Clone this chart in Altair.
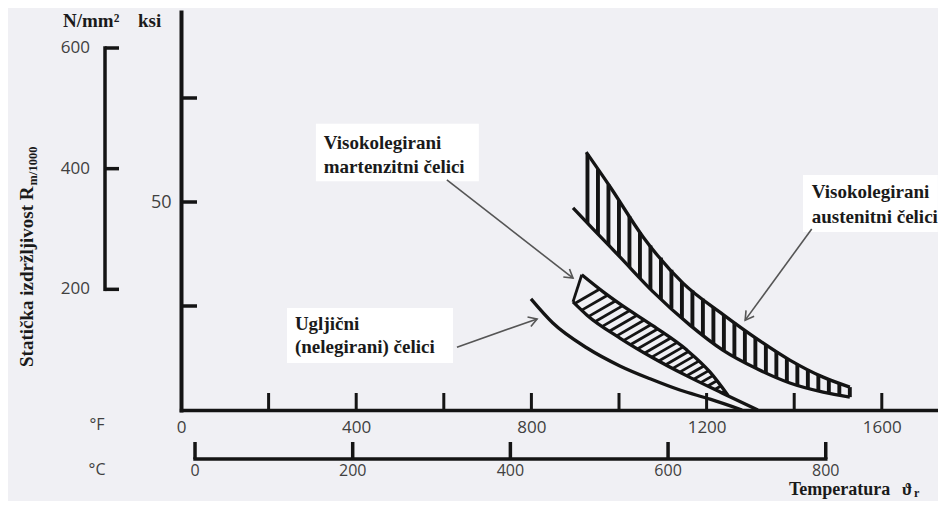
import math
import numpy as np
import pandas as pd
import altair as alt

# ---------------- data (°F , ksi) ----------------
aust_upper_F = [925, 980, 1055, 1146, 1237, 1315, 1390, 1466, 1527]
aust_upper_ksi = [62.0, 53.6, 41.6, 30.5, 23.0, 17.1, 12.0, 7.9, 5.5]
aust_lower_F = [895, 941, 1002, 1078, 1162, 1237, 1315, 1390, 1466, 1527]
aust_lower_ksi = [48.6, 43.5, 36.8, 28.4, 20.4, 14.4, 9.9, 6.5, 4.3, 3.1]

mart_upper_F = [915, 964, 1002, 1078, 1155, 1208, 1249]
mart_upper_ksi = [32.5, 28.4, 25.5, 20.2, 14.4, 9.1, 3.5]
mart_lower_F = [895, 927, 1002, 1078, 1155, 1235, 1317]
mart_lower_ksi = [26.0, 22.8, 17.3, 12.5, 8.2, 4.1, 0.0]

carbon_F = [799, 849, 927, 1002, 1071, 1139, 1208, 1281]
carbon_ksi = [26.7, 20.9, 14.9, 10.6, 7.5, 4.8, 2.6, 0.0]

F_labels = [0, 400, 800, 1200, 1600]
F_ticks = [200, 400, 600, 800, 1000, 1200, 1400, 1600]
C_ticks = [0, 200, 400, 600, 800]
ksi_ticks = [25, 50, 75]
ksi_labels = [50]
nmm_ticks = [200, 400, 600]

label_text = ["Visokolegirani", "martenzitni čelici", "Ugljični",
              "(nelegirani) čelici", "Visokolegirani", "austenitni čelici"]
label_F = [326, 326, 260, 260, 1440, 1440]
label_ksi = [62.7, 57.0, 19.2, 13.7, 51.0, 45.0]

box_F = [308, 242, 1420]
box_F2 = [680, 621, 1728]
box_ksi = [68.8, 24.5, 56.5]
box_ksi2 = [55.0, 11.3, 42.8]

arrow_F0 = [607, 630, 1440]
arrow_k0 = [55.3, 15.1, 43.5]
arrow_F1 = [895, 813, 1288]
arrow_k1 = [31.7, 21.9, 21.6]

# ---------------- layout ----------------
W, H = 757, 398
FMAX = W / 0.438
KMAX = H / 4.16
PXF = W / FMAX
PXK = H / KMAX
SERIF = "Liberation Serif, DejaVu Serif, serif"
SANS = "Open Sans, DejaVu Sans, sans-serif"
INK = "#141414"
GREY = "#404040"

xscale = alt.Scale(domain=[0, FMAX], nice=False, zero=False)
yscale = alt.Scale(domain=[0, KMAX], nice=False, zero=False)
x_axis = alt.Axis(values=F_labels, format="d", title=None, ticks=False, grid=False,
                  domainColor=INK, domainWidth=3.5, domainCap="square",
                  labelFont=SANS, labelFontSize=17, labelColor=GREY,
                  labelPadding=9, labelFlush=False, labelOverlap=False)
y_axis = alt.Axis(values=ksi_labels, format="d", title=None, ticks=False, grid=False,
                  domainColor=INK, domainWidth=4, domainCap="square",
                  labelFont=SANS, labelFontSize=18, labelColor=GREY,
                  labelPadding=10)


def X(f):
    return alt.X(f, type="quantitative", scale=xscale, axis=x_axis)


def Y(f):
    return alt.Y(f, type="quantitative", scale=yscale, axis=y_axis)


layers = []

# white label boxes
boxes = pd.DataFrame({"F": box_F, "F2": box_F2, "k": box_ksi, "k2": box_ksi2})
layers.append(alt.Chart(boxes).mark_rect(color="white").encode(
    x=X("F"), x2="F2", y=Y("k"), y2="k2"))

# curves
rows = []
for name, fs, ks in [("au", aust_upper_F, aust_upper_ksi),
                     ("al", aust_lower_F, aust_lower_ksi),
                     ("mu", mart_upper_F, mart_upper_ksi),
                     ("ml", mart_lower_F, mart_lower_ksi),
                     ("c", carbon_F, carbon_ksi)]:
    for i, (f, k) in enumerate(zip(fs, ks)):
        rows.append({"s": name, "F": f, "k": k, "o": i})
curves = pd.DataFrame(rows)
layers.append(alt.Chart(curves).mark_line(color=INK, strokeWidth=3.3, interpolate="monotone").encode(
    x=X("F"), y=Y("k"), detail="s:N", order="o:Q"))

# austenitic vertical hatching
hf = np.linspace(928, aust_upper_F[-1], 26)
aust_hatch = pd.DataFrame({
    "F": hf,
    "k": np.interp(hf, aust_lower_F, aust_lower_ksi),
    "k2": np.interp(hf, aust_upper_F, aust_upper_ksi)})
layers.append(alt.Chart(aust_hatch).mark_rule(color=INK, strokeWidth=3.9).encode(
    x=X("F"), y=Y("k"), y2="k2"))


# martensitic slanted hatching
def slanted(starts, angle_deg):
    a = math.radians(angle_deg)
    ux, uy = math.cos(a), math.sin(a)
    out = []
    for f0 in starts:
        k0 = float(np.interp(f0, mart_lower_F, mart_lower_ksi))
        X0, Y0 = f0 * PXF, k0 * PXK
        for s in np.arange(0.5, 120, 0.25):
            xx, yy = X0 + s * ux, Y0 + s * uy
            ff = xx / PXF
            if ff < mart_upper_F[0] or ff > mart_upper_F[-1]:
                continue
            if yy >= np.interp(ff, mart_upper_F, mart_upper_ksi) * PXK:
                out.append({"F": f0, "k": k0, "F2": ff, "k2": yy / PXK})
                break
    return out


mh = slanted(np.arange(899, 1245, 7 / PXF), 30)
mh.append({"F": mart_lower_F[0], "k": mart_lower_ksi[0],
           "F2": mart_upper_F[0], "k2": mart_upper_ksi[0]})
layers.append(alt.Chart(pd.DataFrame(mh)).mark_rule(color=INK, strokeWidth=2.8).encode(
    x=X("F"), x2="F2", y=Y("k"), y2="k2"))

# inward ticks on ksi axis and °F axis
layers.append(alt.Chart(pd.DataFrame({"k": ksi_ticks})).mark_rule(color=INK, strokeWidth=3.5).encode(
    y=Y("k"), x=alt.value(0), x2=alt.value(16)))
layers.append(alt.Chart(pd.DataFrame({"F": F_ticks})).mark_rule(color=INK, strokeWidth=3).encode(
    x=X("F"), y=alt.value(H), y2=alt.value(H - 17)))

# °C scale (bracket below)
cF = [c * 9 / 5 + 32 for c in C_ticks]
cdf = pd.DataFrame({"F": cF, "t": [str(c) for c in C_ticks]})
layers.append(alt.Chart(pd.DataFrame({"F": [cF[0]], "F2": [cF[-1]]})).mark_rule(
    color=INK, strokeWidth=3.5, strokeCap="square").encode(
    x=X("F"), x2="F2", y=alt.value(H + 49)))
layers.append(alt.Chart(cdf).mark_rule(color=INK, strokeWidth=3.5).encode(
    x=X("F"), y=alt.value(H + 49), y2=alt.value(H + 32)))
layers.append(alt.Chart(cdf).mark_text(font=SANS, fontSize=16, color=GREY, baseline="middle").encode(
    x=X("F"), y=alt.value(H + 61), text="t:N"))

# N/mm² scale (bracket at left)
nk = [n / 6.895 for n in nmm_ticks]
ndf = pd.DataFrame({"k": nk, "t": [str(n) for n in nmm_ticks]})
layers.append(alt.Chart(pd.DataFrame({"k": [nk[0]], "k2": [nk[-1]]})).mark_rule(
    color=INK, strokeWidth=3.5, strokeCap="square").encode(
    y=Y("k"), y2="k2", x=alt.value(-76)))
layers.append(alt.Chart(ndf).mark_rule(color=INK, strokeWidth=3.5).encode(
    y=Y("k"), x=alt.value(-76), x2=alt.value(-62)))
layers.append(alt.Chart(ndf).mark_text(font=SANS, fontSize=17, color=GREY, align="right",
                                       baseline="middle").encode(
    y=Y("k"), x=alt.value(-91), text="t:N"))

# arrows
adf = pd.DataFrame({"F": arrow_F0, "k": arrow_k0, "F2": arrow_F1, "k2": arrow_k1})
adf["ang"] = [math.degrees(math.atan2(-(k1 - k0) * PXK, (f1 - f0) * PXF)) % 360
              for f0, k0, f1, k1 in zip(arrow_F0, arrow_k0, arrow_F1, arrow_k1)]
layers.append(alt.Chart(adf).mark_rule(color="#555555", strokeWidth=1.6).encode(
    x=X("F"), x2="F2", y=Y("k"), y2="k2"))
layers.append(alt.Chart(adf).mark_point(shape="M-1,-0.6L0,0L-1,0.6", filled=False,
                                        color="#555555", strokeWidth=1.6, size=280,
                                        opacity=1).encode(
    x=X("F2"), y=Y("k2"), angle=alt.Angle("ang:Q", scale=None)))

# label texts
ldf = pd.DataFrame({"F": label_F, "k": label_ksi, "t": label_text})
layers.append(alt.Chart(ldf).mark_text(font=SERIF, fontWeight="bold", fontSize=19, color="#1a1a1a",
                                       align="left", baseline="alphabetic").encode(
    x=X("F"), y=Y("k"), text="t:N"))


def txt(s, x, y, **kw):
    return alt.Chart(pd.DataFrame({"t": [s]})).mark_text(**kw).encode(
        x=alt.value(x), y=alt.value(y), text="t:N")


bold = dict(font=SERIF, fontWeight="bold", color="#1a1a1a", align="left", baseline="alphabetic")
layers += [
    txt("N/mm²", -118, 15, fontSize=19, **bold),
    txt("ksi", -43, 15, fontSize=19, **bold),
    txt("°F", -84, H + 15, font=SANS, fontSize=16, color=GREY, align="center", baseline="middle"),
    txt("°C", -84, H + 60, font=SANS, fontSize=16, color=GREY, align="center", baseline="middle"),
    txt("Temperatura", 608, H + 85, fontSize=18, **bold),
    txt("ϑ", 721, H + 85, fontSize=17, **bold),
    txt("r", 733, H + 87, fontSize=12, **bold),
    txt("Statička izdržljivost R", -148, 355, fontSize=19, angle=270, **bold),
    txt("m/1000", -144, 355 - 9.5 * 19 - 1, fontSize=12.5, angle=270, **bold),
]

chart = alt.layer(*layers).properties(
    width=W, height=H,
    padding={"left": 173, "top": 4, "right": 0, "bottom": 91},
    autosize=alt.AutoSizeParams(type="none"),
    background="#f0f0f4",
).configure_view(stroke=None)

chart.save("out.html", embed_options={"renderer": "svg", "actions": False})
